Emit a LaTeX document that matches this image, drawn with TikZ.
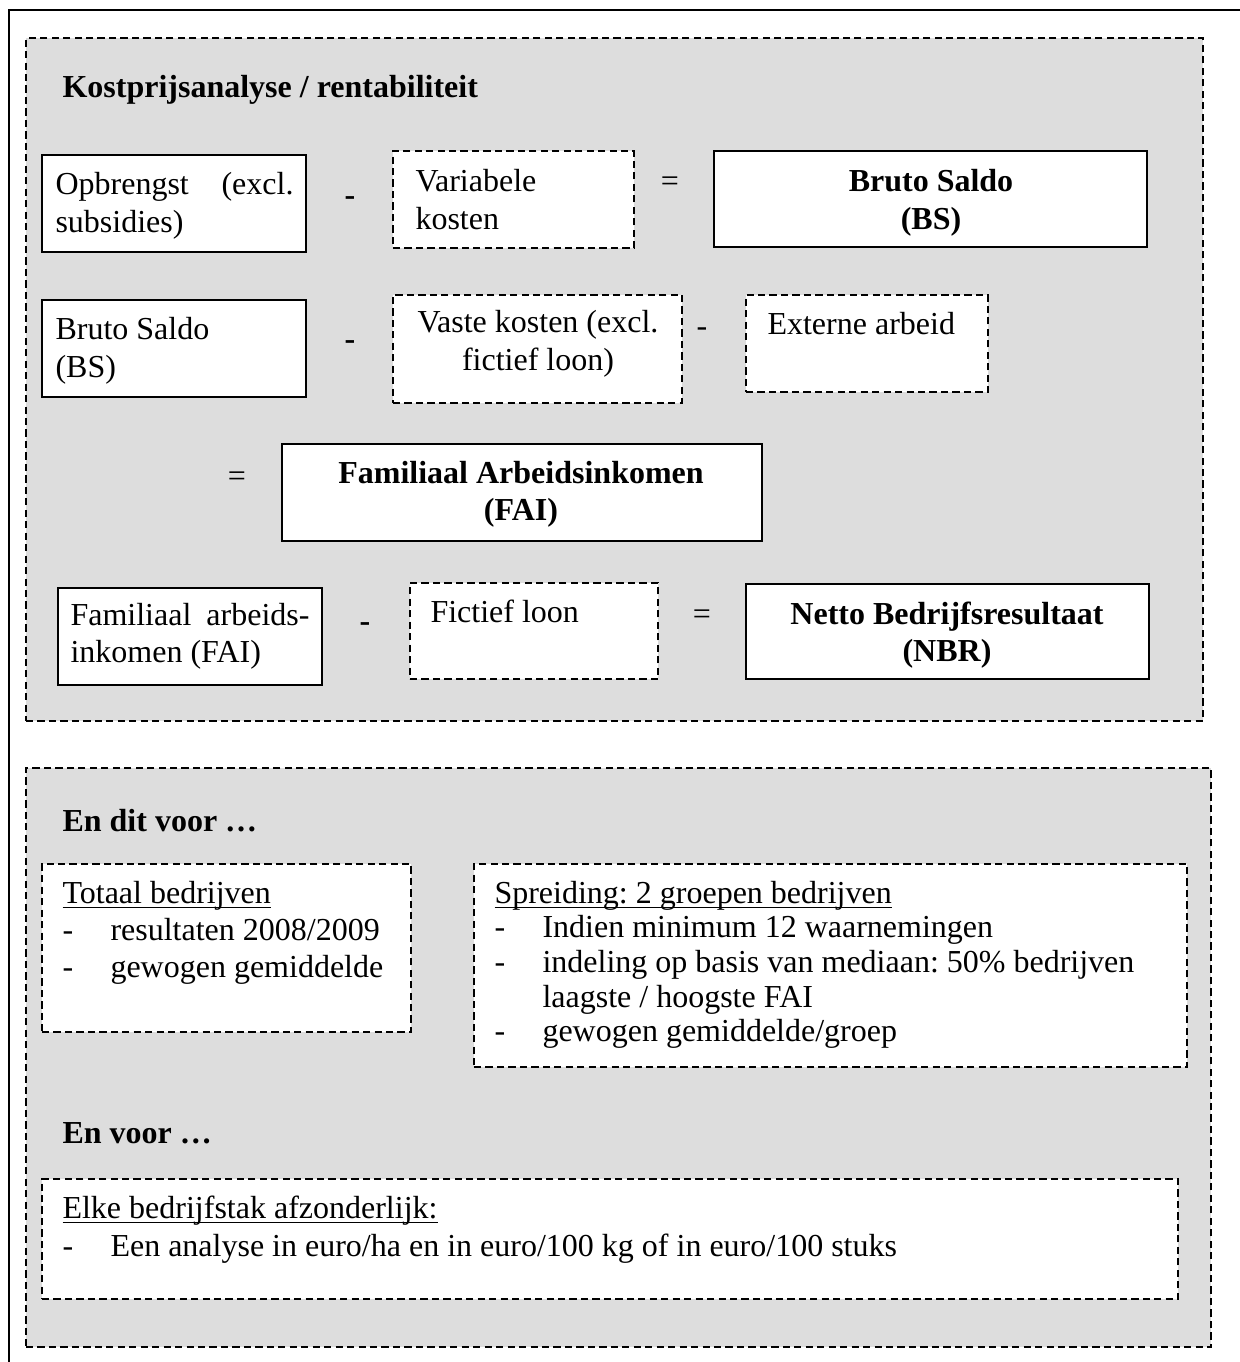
\documentclass[tikz,border=0pt]{standalone}
\usepackage{fontspec}
\setmainfont{Liberation Serif}
\frenchspacing
\definecolor{panelgray}{RGB}{221,221,221}
\newcommand{\wordul}[1]{\setbox0\hbox{#1}\rlap{\rule[-1.9pt]{\wd0}{0.55pt}}\box0}
\newcommand{\bul}{\makebox[18pt][l]{-}}

\begin{document}
\begin{tikzpicture}[x=0.375pt, y=-0.375pt,
	every node/.style={font=\fontsize{12}{13.9}\selectfont, inner sep=0pt},
	panel/.style={shape=rectangle, draw, fill=panelgray, line width=0.75pt, dash pattern=on 2.7pt off 1.6pt},
	solidbox/.style={shape=rectangle, draw, fill=white, line width=0.75pt},
	dashbox/.style={shape=rectangle, draw, fill=white, line width=0.75pt, dash pattern=on 2.7pt off 1.6pt},
	lefttext/.style={anchor=base west, align=flush left, text width=#1},
	midtext/.style={anchor=base, align=flush center, text width=#1},
	boldtext/.style={font=\fontsize{12}{13.9}\selectfont\bfseries},
	sign/.style={anchor=base},
	boldsign/.style={anchor=base, boldtext}]
	\useasboundingbox (0, 0) rectangle (1240, 1362);
	% Frame and panels:
	\draw[line width=0.75pt] (9, 1362) |- (1240, 10);
	\node[panel, minimum width=441.4pt, minimum height=256.1pt] (kostpanel) at (614.5, 379.5){};
	\node[panel, minimum width=444.4pt, minimum height=217.1pt] (voorpanel) at (618.5, 1057.5){};
	\node[anchor=base west, boldtext] (kosttitle) at (62, 98){Kostprijsanalyse / rentabiliteit};
	% Bruto saldo:
	\node[solidbox, minimum width=99pt, minimum height=36.4pt] (opbr) at (174, 203.5){};
	\node[lefttext=89.25pt] (opbrtext) at (55, 195){Opbrengst\hfill(excl.\\subsidies)};
	\node[boldsign] (minusa) at (350, 206){-};
	\node[dashbox, minimum width=90.4pt, minimum height=36.4pt] (varkost) at (513.5, 199.5){};
	\node[lefttext=80pt] (varkosttext) at (415, 192){Variabele\\kosten};
	\node[sign] (isa) at (670, 192){=};
	\node[solidbox, minimum width=162.4pt, minimum height=36pt] (bsres) at (930.5, 199){};
	\node[midtext=150pt, boldtext] (bsrestext) at (931, 192){Bruto Saldo\\(BS)};
	% Familiaal arbeidsinkomen:
	\node[solidbox, minimum width=99pt, minimum height=36.4pt] (bsin) at (174, 348.5){};
	\node[lefttext=89pt] (bsintext) at (55, 340){Bruto Saldo\\(BS)};
	\node[boldsign] (minusb) at (350, 349){-};
	\node[dashbox, minimum width=108.4pt, minimum height=40.5pt] (vastkost) at (537.5, 349){};
	\node[midtext=100pt] (vastkosttext) at (538, 333){Vaste kosten (excl.\\fictief loon)};
	\node[sign] (minusc) at (702, 336){-};
	\node[dashbox, minimum width=90.75pt, minimum height=36.4pt] (extarb) at (867, 343.5){};
	\node[lefttext=80pt] (extarbtext) at (767, 335){Externe arbeid};
	\node[sign] (isb) at (237, 486){=};
	\node[solidbox, minimum width=180pt, minimum height=36.4pt] (fai) at (522, 492.5){};
	\node[midtext=170pt, boldtext] (faitext) at (521, 483){Familiaal Arbeidsinkomen\\(FAI)};
	% Netto bedrijfsresultaat:
	\node[solidbox, minimum width=99pt, minimum height=36.4pt] (famin) at (190, 636.5){};
	\node[lefttext=89.6pt] (famintext) at (70, 625){Familiaal\hfill arbeids-\\inkomen (FAI)};
	\node[boldsign] (minusd) at (365, 631){-};
	\node[dashbox, minimum width=93pt, minimum height=36pt] (fictloon) at (534, 631){};
	\node[lefttext=80pt] (fictloontext) at (430, 622){Fictief loon};
	\node[sign] (isc) at (702, 624){=};
	\node[solidbox, minimum width=151.1pt, minimum height=35.6pt] (nbr) at (947.5, 631.5){};
	\node[midtext=145pt, boldtext] (nbrtext) at (947, 624){Netto Bedrijfsresultaat\\(NBR)};
	% En dit voor / en voor:
	\node[anchor=base west, boldtext] (voortitle) at (62, 831){En dit voor …};
	\node[dashbox, minimum width=138.4pt, minimum height=63pt] (totaal) at (226.5, 948){};
	\node[lefttext=130pt, font=\fontsize{12}{14}\selectfont] (totaaltext) at (62, 903){\wordul{Totaal bedrijven}\\\bul resultaten 2008/2009\\\bul gewogen gemiddelde};
	\node[dashbox, minimum width=267.4pt, minimum height=76.1pt] (spreiding) at (830.5, 965.5){};
	\node[lefttext=260pt, font=\fontsize{12}{13}\selectfont] (spreidingtext) at (494, 903){\wordul{Spreiding: 2 groepen bedrijven}\\\bul Indien minimum 12 waarnemingen\\\bul indeling op basis van mediaan: 50\% bedrijven\\\hspace*{18pt}laagste / hoogste FAI\\\bul gewogen gemiddelde/groep};
	\node[anchor=base west, boldtext] (envoortitle) at (62, 1143){En voor …};
	\node[dashbox, minimum width=426pt, minimum height=45pt] (elke) at (610, 1239){};
	\node[lefttext=400pt, font=\fontsize{12}{14.5}\selectfont] (elketext) at (62, 1218){\wordul{Elke bedrijfstak afzonderlijk:}\\\bul Een analyse in euro/ha en in euro/100 kg of in euro/100 stuks};
\end{tikzpicture}
\end{document}
